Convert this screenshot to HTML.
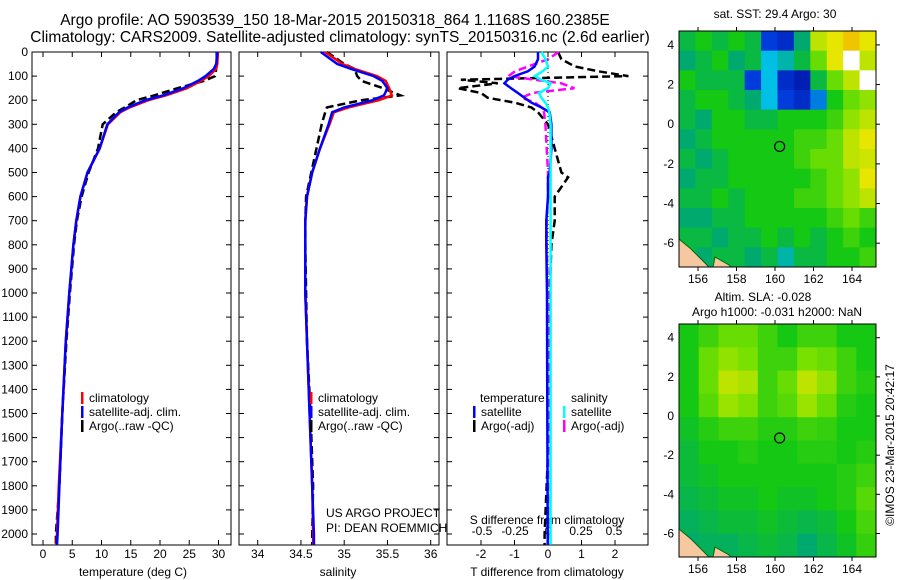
<!DOCTYPE html>
<html><head><meta charset="utf-8"><style>
body{margin:0;background:#fff;}
svg{display:block;font-family:"Liberation Sans",sans-serif;}
text{font-size:12px;fill:#000;}
</style></head><body>
<svg id="fig" width="900" height="580" viewBox="0 0 900 580" xmlns="http://www.w3.org/2000/svg">
<text x="335" y="25" text-anchor="middle" style="font-size:15.5px">Argo profile: AO 5903539_150 18-Mar-2015 20150318_864 1.1168S 160.2385E</text>
<text x="340" y="42" text-anchor="middle" style="font-size:15.5px">Climatology: CARS2009. Satellite-adjusted climatology: synTS_20150316.nc (2.6d earlier)</text>
<g id="g"></g>
</svg>
<script>
// ---- data ----
const depths=[0,50,70,100,120,150,180,200,230,250,300,400,500,600,700,800,1000,1200,1500,1800,2000,2045];
const tempClim=[29.9,29.8,29.6,28.3,27.0,24.6,21.0,18.0,14.8,13.2,11.1,9.7,7.6,6.4,5.7,5.2,4.5,3.9,3.3,2.7,2.4,2.3];
const tempSat=[29.8,29.6,29.2,27.8,26.5,24.0,20.5,17.5,14.5,13.0,11.0,9.7,7.6,6.4,5.7,5.2,4.5,3.9,3.3,2.8,2.5,2.4];
const tempArgo=[29.7,29.7,29.6,29.4,27.5,23.0,19.0,16.0,14.0,12.5,10.2,9.4,7.8,6.6,5.8,5.3,4.6,4.0,3.3,2.8,2.2,2.2];
const salClim=[34.78,34.98,35.12,35.38,35.48,35.52,35.55,35.40,35.05,34.88,34.83,34.72,34.63,34.57,34.55,34.55,34.55,34.57,34.60,34.63,34.64,34.64];
const salSat=[34.73,34.92,35.08,35.34,35.44,35.50,35.46,35.33,35.00,34.86,34.82,34.72,34.63,34.57,34.55,34.55,34.55,34.57,34.60,34.63,34.65,34.65];
const salArgo=[34.80,35.00,35.12,35.15,35.20,35.45,35.65,35.20,34.80,34.78,34.74,34.68,34.62,34.56,34.55,34.55,34.56,34.57,34.61,34.64,34.63,34.63];
const diffDepths=[0,30,60,80,100,115,130,150,170,190,210,230,250,300,400,500,520,600,700,800,1000,1500,2000,2045];
const tDiffSat=[-0.3,-0.3,-0.4,-0.6,-1.0,-1.2,-1.3,-1.1,-0.9,-0.7,-0.5,-0.2,0.05,0.1,0.1,0.05,0.0,0.0,-0.05,-0.05,-0.03,-0.02,-0.01,-0.01];
const tDiffArgo=[0.3,0.4,0.8,1.5,2.4,-2.6,-1.5,-2.7,-2.0,-1.8,-1.0,-0.5,-0.3,0.0,0.2,0.4,0.6,0.2,0.2,0.1,0.05,0.05,-0.1,-0.1];
const sDiffSat=[-0.05,-0.02,0.0,-0.04,-0.1,-0.05,0.02,0.0,-0.07,-0.05,-0.02,0.0,0.01,0.02,0.02,0.02,0.02,0.02,0.02,0.02,0.02,0.02,0.02,0.02];
const sDiffArgo=[0.08,0.0,-0.15,-0.25,-0.3,-0.1,0.1,0.2,-0.12,-0.2,-0.1,-0.05,-0.03,-0.02,-0.01,0.0,0.0,0.0,-0.01,-0.01,0.0,0.0,0.0,0.0];
const depthTicks=[0,100,200,300,400,500,600,700,800,900,1000,1100,1200,1300,1400,1500,1600,1700,1800,1900,2000];
const tempTicks=[0,5,10,15,20,25,30];
const salTicks=[34,34.5,35,35.5,36];
const tdTicks=[-2,-1,0,1,2];
const sdTicks=["-0.5","-0.25","0","0.25","0.5"];
const lonTicks=[156,158,160,162,164];
const latTicks=[4,2,0,-2,-4,-6];
const sstGrid=[
[.45,.5,.45,.5,.45,.2,.15,.4,.7,.75,.8,.75],
[.4,.45,.5,.4,.45,.3,.35,.45,.6,.75,-1,.7],
[.5,.45,.45,.45,.2,.3,.15,.1,.45,.6,.7,-1],
[.45,.5,.5,.45,.4,.3,.2,.15,.25,.5,.6,.65],
[.45,.4,.5,.5,.45,.45,.5,.5,.5,.55,.65,.7],
[.4,.45,.5,.5,.5,.5,.5,.55,.55,.6,.7,.75],
[.45,.4,.45,.5,.5,.5,.5,.55,.6,.6,.7,.72],
[.4,.45,.45,.5,.5,.5,.5,.5,.55,.6,.65,.75],
[.45,.45,.5,.45,.5,.5,.5,.55,.55,.6,.65,.7],
[.4,.4,.45,.45,.5,.5,.5,.5,.5,.55,.6,.55],
[.45,.45,.4,.45,.45,.5,.45,.5,.45,.5,.55,.5],
[.45,.4,.45,.45,.4,.45,.35,.45,.45,.5,.5,.55]];
const slaGrid=[
[.5,.55,.6,.6,.55,.5,.55,.55,.5,.5],
[.5,.6,.65,.62,.55,.55,.62,.6,.55,.5],
[.5,.6,.7,.68,.55,.6,.7,.65,.55,.52],
[.5,.58,.66,.63,.55,.58,.66,.6,.52,.5],
[.48,.52,.55,.55,.52,.52,.55,.54,.5,.5],
[.46,.5,.5,.52,.5,.5,.52,.52,.5,.52],
[.46,.48,.5,.5,.5,.5,.5,.5,.52,.55],
[.44,.46,.48,.48,.5,.48,.48,.5,.52,.58],
[.42,.44,.46,.46,.48,.46,.44,.46,.5,.56],
[.4,.42,.42,.44,.46,.44,.4,.44,.48,.54]];
const argoLon=[160.24], argoLat=[-1.12];

// ---- helpers ----
const NS="http://www.w3.org/2000/svg";
const G=document.getElementById('g');
function mk(tag,attrs,parent){const e=document.createElementNS(NS,tag);for(const k in attrs)e.setAttribute(k,attrs[k]);(parent||G).appendChild(e);return e;}
function txt(x,y,s,anchor,extra){const t=mk('text',Object.assign({x:x,y:y,'text-anchor':anchor||'middle'},extra||{}));t.textContent=s;return t;}
const Y=d=>52+d*0.241;
const xT=v=>43+5.85*v;
const xS=v=>257.7+86.5*(v-34);
const xTD=v=>548+33.5*v;
const xSD=v=>548+132*v;
const P1={x0:32,x1:231},P2={x0:239,x1:439},P3={x0:447,x1:648};
const pTop=52,pBot=545;

function panel(p,name){
  const r=mk('rect',{x:p.x0,y:pTop,width:p.x1-p.x0,height:pBot-pTop,fill:'none',stroke:'#000','stroke-width':1});
  
  
  depthTicks.forEach(d=>{mk('line',{x1:p.x0,x2:p.x0+5,y1:Y(d),y2:Y(d),stroke:'#000'});mk('line',{x1:p.x1-5,x2:p.x1,y1:Y(d),y2:Y(d),stroke:'#000'});});
}
function xticks(vals,fx,labels,ly){vals.forEach((v,i)=>{const x=fx(v);mk('line',{x1:x,x2:x,y1:pBot,y2:pBot-5,stroke:'#000'});mk('line',{x1:x,x2:x,y1:pTop,y2:pTop+5,stroke:'#000'});const t=txt(x,ly,labels?labels[i]:String(v));});}
function line(xs,ds,fx,color,dash,name,w){
  const pts=xs.map((v,i)=>fx(v).toFixed(1)+','+Y(ds[i]).toFixed(1)).join(' ');
  const pl=mk('polyline',{points:pts,fill:'none',stroke:color,'stroke-width':w||2.5,'stroke-dasharray':dash||'none'});
  
  
}
function leg(x,y,color,label,name){mk('rect',{x:x,y:y-10,width:2.5,height:12,fill:color});const t=txt(x+8,y,label,'start');}

// ---- panel 1 temperature ----
panel(P1,'temperature-panel');
depthTicks.forEach(d=>{const t=txt(28,Y(d)+4,String(d),'end');});
xticks(tempTicks,xT,null,558);
const xt1=txt(133,576,'temperature (deg C)');
line(tempArgo,depths,xT,'#000','8,4','argo-temperature-line');
line(tempClim,depths,xT,'#f00',null,'clim-temperature-line');
line(tempSat,depths,xT,'#00f',null,'sat-temperature-line');
leg(81,402,'#f00','climatology','legend-climatology');
leg(81,416,'#00f','satellite-adj. clim.','legend-satellite');
leg(81,430,'#000','Argo(..raw -QC)','legend-argo');

// ---- panel 2 salinity ----
panel(P2,'salinity-panel');
xticks(salTicks,xS,null,558);
const xt2=txt(338,576,'salinity');
line(salArgo,depths,xS,'#000','8,4','argo-salinity-line');
line(salClim,depths,xS,'#f00',null,'clim-salinity-line');
line(salSat,depths,xS,'#00f',null,'sat-salinity-line');
leg(310,402,'#f00','climatology','legend-climatology-2');
leg(310,416,'#00f','satellite-adj. clim.','legend-satellite-2');
leg(310,430,'#000','Argo(..raw -QC)','legend-argo-2');
txt(326,517,'US ARGO PROJECT','start');
txt(326,532,'PI: DEAN ROEMMICH','start');

// ---- panel 3 differences ----
panel(P3,'difference-panel');
mk('line',{x1:548,x2:548,y1:pTop,y2:pBot,stroke:'#000','stroke-dasharray':'1,3'});
xticks(tdTicks,xTD,null,558);
sdTicks.forEach(s=>{const t=txt(xSD(parseFloat(s)),535,s);});
txt(547,524,'S difference from climatology');
const xt3=txt(547,576,'T difference from climatology');
line(tDiffArgo,diffDepths,xTD,'#000','8,4','argo-t-diff-line');
line(sDiffArgo,diffDepths,xSD,'#f0f','8,4','argo-s-diff-line');
line(tDiffSat,diffDepths,xTD,'#00f',null,'sat-t-diff-line');
line(sDiffSat,diffDepths,xSD,'#0ff',null,'sat-s-diff-line');
txt(480,402,'temperature','start');
leg(473,416,'#00f','satellite','legend-t-satellite');
leg(473,430,'#000','Argo(-adj)','legend-t-argo');
txt(571,402,'salinity','start');
leg(563,416,'#0ff','satellite','legend-s-satellite');
leg(563,430,'#f0f','Argo(-adj)','legend-s-argo');

// ---- maps ----
function cmap(v){
  const stops=[[0,[0,0,140]],[.2,[0,60,220]],[.3,[0,190,230]],[.4,[0,170,110]],[.5,[20,200,20]],[.62,[120,225,0]],[.75,[230,230,0]],[.87,[255,150,0]],[1,[190,0,0]]];
  for(let i=1;i<stops.length;i++){if(v<=stops[i][0]){const a=stops[i-1],b=stops[i],f=(v-a[0])/(b[0]-a[0]);return 'rgb('+a[1].map((c,k)=>Math.round(c+f*(b[1][k]-c))).join(',')+')';}}
  return 'rgb(190,0,0)';
}
function map(y0,y1,grid,name){
  const x0=679,x1=876;
  const lonX=l=>698+19.25*(l-156);
  const latY=l=>y0+(4.7-l)*(y1-y0)/11.9;
  const g=mk('g',{});
  
  
  const rows=grid.length,cols=grid[0].length,cw=(x1-x0)/cols,ch=(y1-y0)/rows;
  grid.forEach((row,r)=>row.forEach((v,c)=>{
    const cell=mk('rect',{x:x0+c*cw,y:y0+r*ch,width:cw+0.5,height:ch+0.5,fill:v<0?'#fff':cmap(v)},g);
    
    
  }));
  mk('path',{d:`M${x0} ${y1-28} L${x0+12} ${y1-18} L${x0+22} ${y1-8} L${x0+30} ${y1} L${x0} ${y1} Z`,fill:'#f5c8a0',stroke:'#060','stroke-width':1},g);
  mk('path',{d:`M${x0+36} ${y1-10} L${x0+50} ${y1-2} L${x0+52} ${y1} L${x0+34} ${y1} Z`,fill:'#f5c8a0',stroke:'#060','stroke-width':1},g);
  mk('rect',{x:x0,y:y0,width:x1-x0,height:y1-y0,fill:'none',stroke:'#000'},g);
  lonTicks.forEach(l=>{const x=lonX(l);mk('line',{x1:x,x2:x,y1:y0,y2:y0-4,stroke:'#000'},g);mk('line',{x1:x,x2:x,y1:y1,y2:y1+4,stroke:'#000'},g);const t=txt(x,y1+16,String(l));});
  latTicks.forEach(l=>{const y=latY(l);mk('line',{x1:x1,x2:x1+4,y1:y,y2:y,stroke:'#000'},g);const t=txt(674,y+4,String(l),'end');});
  argoLon.forEach((lo,i)=>{const c=mk('circle',{cx:lonX(lo),cy:latY(argoLat[i]),r:5,fill:'none',stroke:'#000','stroke-width':1.2},g);});
}
map(31,267,sstGrid,'sst-map');
map(324,557,slaGrid,'sla-map');
txt(775,18,'sat. SST: 29.4  Argo: 30');
txt(763,301,'Altim. SLA: -0.028');
txt(777,316,'Argo h1000: -0.031 h2000: NaN');
const imos=txt(0,0,'©IMOS 23-Mar-2015 20:42:17','middle',{transform:'translate(894,445) rotate(-90)'});


</script>
</body></html>
